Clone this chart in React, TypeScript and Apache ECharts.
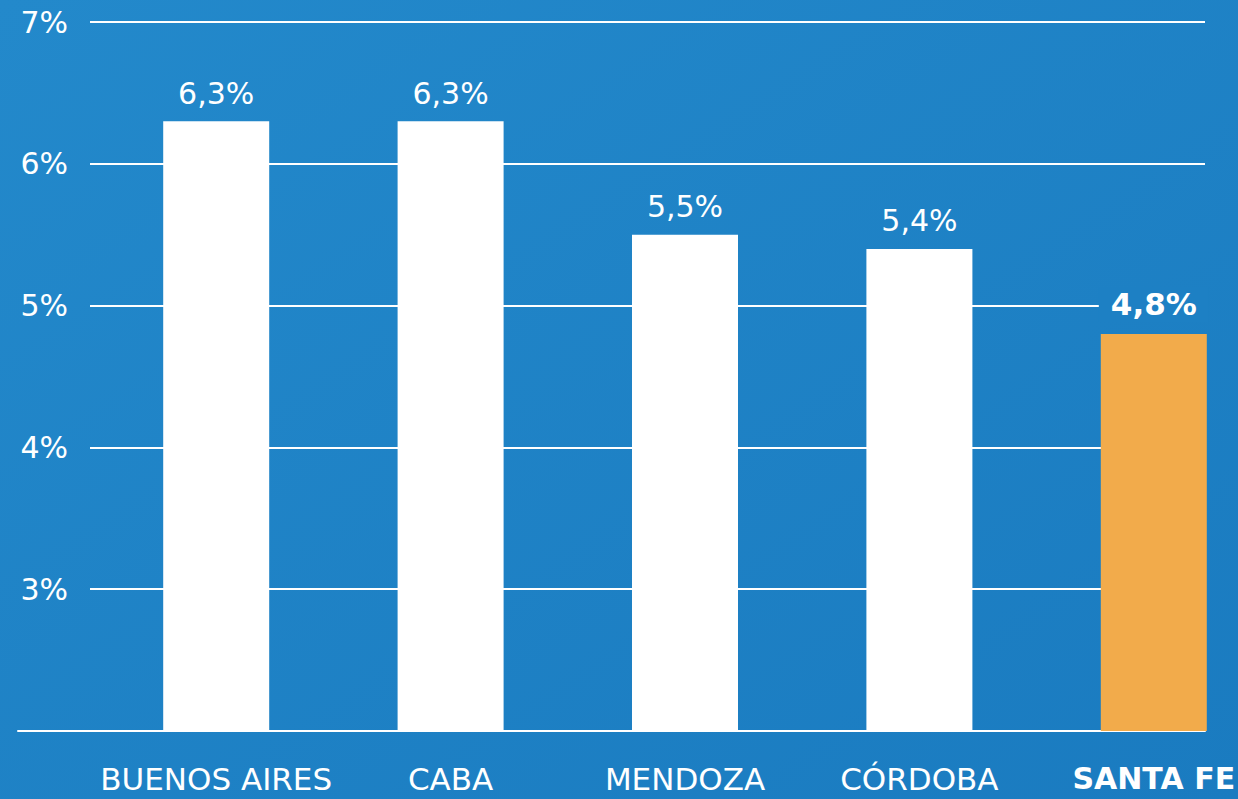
import React, { useEffect, useRef } from "react";
import * as echarts from "echarts";

const categories = ["BUENOS AIRES", "CABA", "MENDOZA", "CÓRDOBA", "SANTA FE"];
const values = [6.3, 6.3, 5.5, 5.4, 4.8];
const highlight = [false, false, false, false, true];
const yTicks = [2, 3, 4, 5, 6, 7];

const fmt = (v: number) => v.toFixed(1).replace(".", ",") + "%";

export default function App() {
  const ref = useRef<HTMLDivElement>(null);
  useEffect(() => {
    if (!ref.current) return;
    const chart = echarts.init(ref.current, null, { renderer: "svg" });
    const font = "DejaVu Sans";
    chart.setOption({
      animation: false,
      backgroundColor: new echarts.graphic.LinearGradient(0, 0, 1, 1, [
        { offset: 0, color: "#2389CB" },
        { offset: 1, color: "#1A7BC0" },
      ]),
      textStyle: { fontFamily: font, color: "#fff" },
      grid: [
        { left: 18, right: 33, top: 22, bottom: 68, outerBoundsMode: "none" },
        { left: 90, right: 33, top: 22, bottom: 68, outerBoundsMode: "none" },
        { left: 99, width: 1172, top: 22, bottom: 68, outerBoundsMode: "none" },
      ],
      xAxis: [
        {
          gridIndex: 0, type: "value", min: 0, max: 1,
          axisLine: { show: true, onZero: false, lineStyle: { color: "#fff", width: 2 } },
          axisTick: { show: false }, axisLabel: { show: false }, splitLine: { show: false },
        },
        {
          gridIndex: 1, type: "value", min: 0, max: 1, show: false,
        },
        {
          gridIndex: 2, type: "category", data: categories,
          axisLine: { show: false }, axisTick: { show: false },
          axisLabel: {
            interval: 0,
            color: "#fff", fontSize: 31, fontFamily: font, margin: 32,
            formatter: (v: string) => (highlight[categories.indexOf(v)] ? "{b|" + v + "}" : v),
            rich: { b: { fontWeight: "bold", fontSize: 30, color: "#fff", fontFamily: font } },
          },
        },
      ],
      yAxis: [
        { gridIndex: 0, type: "value", min: 2, max: 7, show: false },
        {
          gridIndex: 1, type: "value", min: yTicks[0], max: yTicks[yTicks.length - 1], interval: 1,
          axisLine: { show: false }, axisTick: { show: false },
          axisLabel: {
            color: "#fff", fontSize: 30, fontFamily: font, margin: 22,
            formatter: (v: number) => (v === yTicks[0] ? "" : v + "%"),
          },
          splitLine: { show: true, lineStyle: { color: "#fff", width: 2 } },
        },
        { gridIndex: 2, type: "value", min: 2, max: 7, show: false },
      ],
      series: [
        {
          type: "bar",
          xAxisIndex: 2,
          yAxisIndex: 2,
          barWidth: 106,
          data: values.map((v, i) => ({
            value: v,
            itemStyle: { color: highlight[i] ? "#F2AB4B" : "#FFFFFF" },
            label: highlight[i]
              ? {
                  fontWeight: "bold", fontSize: 31, distance: 12,
                  backgroundColor: "#1D80C4", padding: [2, 12, 2, 12],
                }
              : {},
          })),
          label: {
            show: true,
            position: "top",
            distance: 13,
            color: "#fff",
            fontSize: 30,
            fontFamily: font,
            formatter: (p: any) => fmt(p.value),
          },
        },
      ],
    });
    return () => chart.dispose();
  }, []);
  return (
    <div
      ref={ref}
      style={{ position: "fixed", left: 0, top: 0, width: 1238, height: 799 }}
    />
  );
}
